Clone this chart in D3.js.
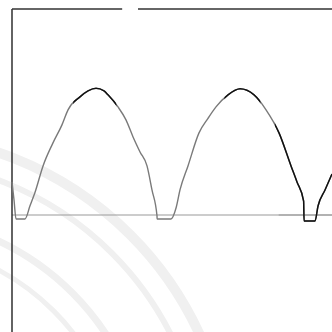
<!DOCTYPE html>
<html>
<head>
<meta charset="utf-8">
<script src="https://cdn.jsdelivr.net/npm/d3@7"></script>
<style>
  html, body { margin: 0; padding: 0; background: #fff; }
  svg { display: block; }
</style>
</head>
<body>
<div id="chart"></div>
<script>
// time (ms) and voltage (V)
const timeMs = [0, 0.28, 0.56, 1.81, 2.5, 3.19, 4.31, 5.69, 6.94, 7.78, 9.44, 10.56, 11.67, 12.78, 13.33,
  14.72, 15.83, 16.81, 17.78, 18.75, 19.44, 20.14, 20.15, 22.08, 22.78, 23.33, 24.44, 25.97, 27.22,
  28.33, 30, 31.67, 33.61, 35.28, 37.08, 38.75, 39.58, 40.5, 40.56, 42.08, 42.5, 43.47, 44.44];
const voltage = [2.6, 1.18, -0.31, -0.31, 0.72, 1.77, 3.86, 5.67, 7.09, 8.27, 9.29, 9.76, 9.96, 9.76, 9.45,
  8.5, 7.48, 6.14, 4.96, 3.86, 1.97, -0.08, -0.31, -0.31, 0.55, 1.97, 3.86, 6.46, 7.6,
  8.5, 9.45, 9.92, 9.45, 8.27, 6.46, 3.86, 2.6, 1.1, -0.47, -0.47, 0.71, 1.97, 3.23];

const timeDomain = [0, 44.44];
const voltDomain = [-9.2, 16.2];

const width = 332, height = 332;
const marginLeft = 12, marginTop = 9;

const svg = d3.select('#chart').append('svg')
  .attr('width', width)
  .attr('height', height);

const x = d3.scaleLinear().domain(timeDomain).range([marginLeft, width]);
const y = d3.scaleLinear().domain(voltDomain).range([height, marginTop]);

// faint watermark seal in the background
const seal = svg.append('g').attr('fill', 'none').attr('stroke', '#f0f0f0');
[[344, 10], [318, 6], [262, 7], [236, 5]].forEach(([r, w]) => {
  seal.append('circle')
    .attr('cx', -113).attr('cy', 478).attr('r', r)
    .attr('stroke-width', w);
});

const points = timeMs.map((t, i) => ({ t, v: voltage[i] }));

// zero line
svg.append('line')
  .attr('x1', x(timeDomain[0])).attr('x2', x(37))
  .attr('y1', y(0)).attr('y2', y(0))
  .attr('stroke', '#9a9a9a').attr('stroke-width', 1.2);
svg.append('line')
  .attr('x1', x(37)).attr('x2', x(timeDomain[1]))
  .attr('y1', y(0)).attr('y2', y(0))
  .attr('stroke', '#666').attr('stroke-width', 1.2);

// frame: left and top edges
svg.append('line')
  .attr('x1', x(0)).attr('x2', x(0))
  .attr('y1', y(voltDomain[1])).attr('y2', y(voltDomain[0]))
  .attr('stroke', '#222').attr('stroke-width', 1.4);
svg.append('line')
  .attr('x1', x(0)).attr('x2', x(15.3))
  .attr('y1', y(voltDomain[1])).attr('y2', y(voltDomain[1]))
  .attr('stroke', '#333').attr('stroke-width', 1.3);
svg.append('line')
  .attr('x1', x(17.5)).attr('x2', x(timeDomain[1]))
  .attr('y1', y(voltDomain[1])).attr('y2', y(voltDomain[1]))
  .attr('stroke', '#333').attr('stroke-width', 1.3);

const line = d3.line()
  .x(d => x(d.t))
  .y(d => y(d.v))
  .curve(d3.curveMonotoneX);

svg.append('path')
  .datum(points)
  .attr('d', line)
  .attr('fill', 'none')
  .attr('stroke', '#7a7a7a')
  .attr('stroke-width', 1.4)
  .attr('stroke-linejoin', 'round');

// darker ink where the scan picked the trace up more strongly
const darkRanges = [[8.5, 14.5], [29.5, 34.5], [36.5, 44.44]];
const defs = svg.append('defs');
const clip = defs.append('clipPath').attr('id', 'dark-clip');
darkRanges.forEach(([a, b]) => {
  clip.append('rect')
    .attr('x', x(a)).attr('width', x(b) - x(a))
    .attr('y', 0).attr('height', height);
});

svg.append('path')
  .datum(points)
  .attr('d', line)
  .attr('clip-path', 'url(#dark-clip)')
  .attr('fill', 'none')
  .attr('stroke', '#111')
  .attr('stroke-width', 1.5)
  .attr('stroke-linejoin', 'round');
</script>
</body>
</html>
